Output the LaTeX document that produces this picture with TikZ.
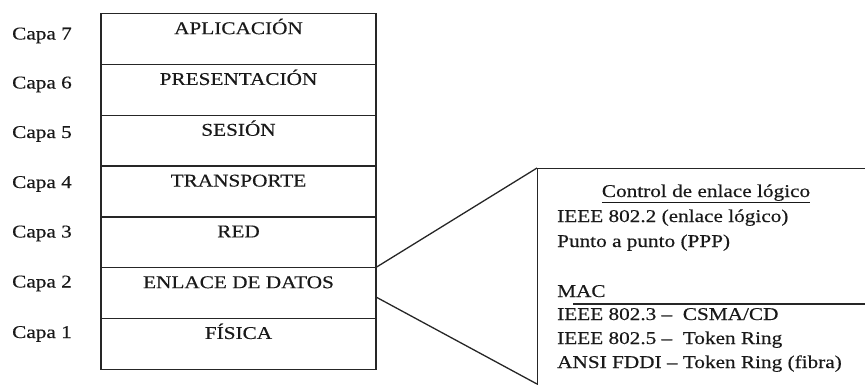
\documentclass[tikz,border=0pt]{standalone}
\usepackage{fontspec}
\setmainfont{Liberation Serif}[FakeStretch=1.18, FakeBold=0.4]
\usepackage{tikz}

\begin{document}
\begin{tikzpicture}[x=1pt, y=-1pt,
  every node/.style={text=black!90, font=\fontsize{18}{24.3}\selectfont},
  edge/.style={draw=black!85, line width=1.3pt},
  layer/.style={edge, minimum width=275pt, minimum height=50.8pt, inner xsep=0pt, inner ysep=0pt, text height=20.5pt, text depth=30.3pt, anchor=north},
  capa/.style={anchor=base west, inner sep=0pt},
  item/.style={anchor=base west, inner sep=0pt}]
  \useasboundingbox (0,0) rectangle (865,384);
  % OSI stack
  \node[layer] (l7) at (238.5,13) {APLICACIÓN};
  \node[layer] (l6) at (238.5,63.8) {PRESENTACIÓN};
  \node[layer] (l5) at (238.5,114.6) {SESIÓN};
  \node[layer] (l4) at (238.5,165.4) {TRANSPORTE};
  \node[layer] (l3) at (238.5,216.2) {RED};
  \node[layer] (l2) at (238.5,267) {ENLACE DE DATOS};
  \node[layer] (l1) at (238.5,317.8) {FÍSICA};
  \node[capa] (c7) at (12,39.5) {Capa 7};
  \node[capa] (c6) at (12,88.5) {Capa 6};
  \node[capa] (c5) at (12,138) {Capa 5};
  \node[capa] (c4) at (12,188) {Capa 4};
  \node[capa] (c3) at (12,237.5) {Capa 3};
  \node[capa] (c2) at (12,287.5) {Capa 2};
  \node[capa] (c1) at (12,338) {Capa 1};
  % data link sublayers
  \node[edge, minimum width=400pt, minimum height=260pt, inner sep=0pt, anchor=north west] (sub) at (537,168) {};
  \coordinate (split) at (573,304);
  \draw[edge] (split) -- (split -| sub.east);
  \coordinate (tap) at (376,297);
  \coordinate (foot) at (537,384);
  \draw[edge] (l2.north east) -- (sub.north west);
  \draw[edge] (tap) -- (foot);
  \node[anchor=base, inner sep=0pt] (llc) at (706,197) {\underline{Control de enlace lógico}};
  \node[item] (i1) at (557,222) {IEEE 802.2 (enlace lógico)};
  \node[item] (i2) at (557,247) {Punto a punto (PPP)};
  \node[item] (mac) at (557,297) {MAC};
  \node[item] (i3) at (557,320) {IEEE 802.3 --\ \ CSMA/CD};
  \node[item] (i4) at (557,344) {IEEE 802.5 --\ \ Token Ring};
  \node[item] (i5) at (557,368) {ANSI FDDI -- Token Ring (fibra)};
\end{tikzpicture}
\end{document}
